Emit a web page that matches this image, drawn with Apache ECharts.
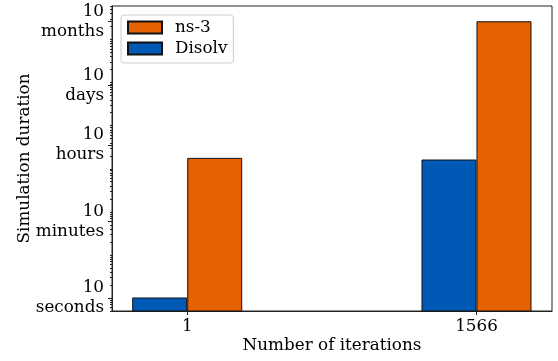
<!DOCTYPE html>
<html>
<head>
<meta charset="utf-8">
<script src="https://cdn.jsdelivr.net/npm/echarts@6/dist/echarts.min.js"></script>
<style>
html, body { margin: 0; padding: 0; background: #fff; }
#chart { width: 558px; height: 361px; }
</style>
</head>
<body>
<div id="chart"></div>
<script>
// data (seconds)
const categories = ['1', '1566']
const disolvSeconds = [10.3, 16400]
const ns3Seconds = [17900, 26500000]
const tickValues = [10, 600, 36000, 864000, 25920000]
const tickLabels = ['10\nseconds', '10\nminutes', '10\nhours', '10\ndays', '10\nmonths']

const yMin = 5
const yMax = 6e7
const fontFamily = '"DejaVu Serif", serif'
const fontSize = 16.8

// log minor ticks 1..9 x 10^k
const minorTicks = []
for (let k = 0; k <= 7; k++) {
  for (let m = 1; m <= 9; m++) {
    const v = m * Math.pow(10, k)
    if (v >= yMin && v <= yMax) minorTicks.push(v)
  }
}

function labelFor(value) {
  let best = 0
  tickValues.forEach((t, i) => {
    if (Math.abs(Math.log10(t) - Math.log10(value)) < Math.abs(Math.log10(tickValues[best]) - Math.log10(value))) best = i
  })
  return tickLabels[best]
}

const chart = echarts.init(document.getElementById('chart'))

const option = {
  animation: false,
  textStyle: { fontFamily: fontFamily },
  grid: {
    left: 112,
    right: 6,
    top: 6,
    bottom: 50,
    show: true,
    borderColor: '#222',
    borderWidth: 1
  },
  legend: {
    data: ['ns-3', 'Disolv'],
    orient: 'vertical',
    left: 121,
    top: 15,
    itemWidth: 34,
    itemHeight: 12,
    itemGap: 4,
    padding: [4, 6, 6, 6],
    borderColor: '#cccccc',
    borderWidth: 1,
    borderRadius: 3,
    backgroundColor: 'rgba(255,255,255,0.8)',
    icon: 'rect',
    textStyle: {
      fontFamily: fontFamily,
      fontSize: fontSize,
      color: '#000',
      padding: [0, 0, 0, 8]
    }
  },
  xAxis: {
    type: 'value',
    min: -0.26,
    max: 1.261,
    name: 'Number of iterations',
    nameLocation: 'middle',
    nameGap: 26,
    nameMoveOverlap: false,
    nameTextStyle: { fontFamily: fontFamily, fontSize: fontSize, color: '#000' },
    splitLine: { show: false },
    axisLine: { onZero: false, lineStyle: { color: '#222', width: 1 } },
    axisTick: {
      customValues: [0, 1],
      length: 4,
      lineStyle: { color: '#222' }
    },
    axisLabel: {
      customValues: [0, 1],
      margin: 7,
      fontFamily: fontFamily,
      fontSize: fontSize,
      color: '#000',
      formatter: (v) => categories[Math.round(v)]
    }
  },
  yAxis: [
    {
      type: 'log',
      logBase: 10,
      min: yMin,
      max: yMax,
      name: 'Simulation duration',
      nameLocation: 'middle',
      nameGap: 79,
      nameMoveOverlap: false,
      nameTextStyle: { fontFamily: fontFamily, fontSize: fontSize, color: '#000' },
      splitLine: { show: false },
      axisLine: { show: true, onZero: false, lineStyle: { color: '#222', width: 1 } },
      axisTick: {
        customValues: tickValues,
        length: 4,
        lineStyle: { color: '#222' }
      },
      axisLabel: {
        customValues: tickValues,
        margin: 8,
        fontFamily: fontFamily,
        fontSize: fontSize,
        lineHeight: 20,
        color: '#000',
        align: 'right',
        formatter: labelFor
      }
    },
    {
      type: 'log',
      logBase: 10,
      min: yMin,
      max: yMax,
      position: 'left',
      offset: 0,
      splitLine: { show: false },
      axisLine: { show: false, onZero: false },
      axisLabel: { show: false },
      axisTick: {
        customValues: minorTicks,
        length: 2,
        lineStyle: { color: '#222' }
      }
    }
  ],
  series: [
    {
      name: 'Disolv',
      type: 'bar',
      barWidth: 55,
      barGap: '0%',
      itemStyle: { color: '#005AB5', borderColor: '#111', borderWidth: 1 },
      data: disolvSeconds.map((v, i) => [i, v])
    },
    {
      name: 'ns-3',
      type: 'bar',
      barWidth: 55,
      barGap: '0%',
      itemStyle: { color: '#E66100', borderColor: '#111', borderWidth: 1 },
      data: ns3Seconds.map((v, i) => [i, v])
    }
  ]
}

chart.setOption(option)
</script>
</body>
</html>
